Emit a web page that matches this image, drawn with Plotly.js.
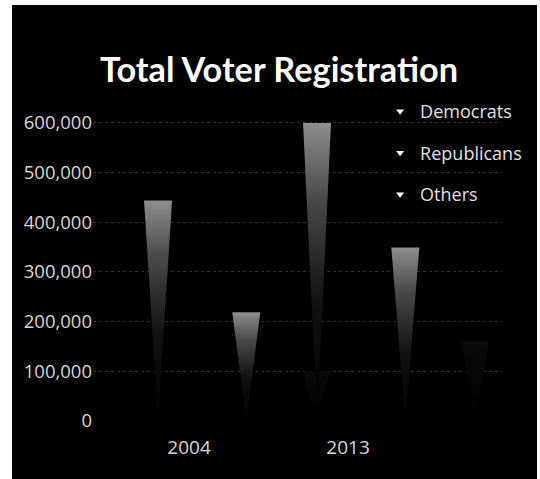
<!DOCTYPE html>
<html><head><meta charset="utf-8">
<script src="https://cdn.plot.ly/plotly-3.0.1.min.js"></script>
<style>
html,body{margin:0;padding:0;background:#fff;width:540px;height:479px;overflow:hidden}
#chart{position:absolute;left:12px;top:5px;width:525px;height:474px;background:#000}
</style>
</head><body><div id="chart"></div>
<script>
// ---- data ----
const categories = ["2004", "2013"];
const democrats = [444000, 600000];
const republicans = [219000, 349000];
const others = [100000, 160000];   // not visible in the reference (dark cones); estimated
const yTickValues = [0, 100000, 200000, 300000, 400000, 500000, 600000];
const yTickLabels = ["0", "100,000", "200,000", "300,000", "400,000", "500,000", "600,000"];

// ---- styling ----
const brightScale = [[0, "#000000"], [0.4, "#121212"], [0.75, "#4a4a4a"], [1, "#8e8e8e"]];
const darkScale = [[0, "#000000"], [1, "#0a0a0a"]];
const series = [
  {name: "Others",      values: others,      offset: 0.80,   scale: darkScale},
  {name: "Democrats",   values: democrats,   offset: -0.195, scale: brightScale},
  {name: "Republicans", values: republicans, offset: 0.36,   scale: brightScale}
];
const legendOrder = ["Democrats", "Republicans", "Others"];
const halfW = 0.088;

const traces = [];
series.forEach(s => {
  s.values.forEach((v, i) => {
    const c = i + s.offset;
    traces.push({
      type: "scatter", mode: "lines",
      x: [c - halfW, c + halfW, c, c - halfW],
      y: [v, v, 0, v],
      fill: "toself",
      line: {width: 0, color: "rgba(0,0,0,0)"},
      fillcolor: s.scale[s.scale.length - 1][1],
      fillgradient: {type: "vertical", start: 0, stop: v, colorscale: s.scale},
      showlegend: false, hoverinfo: "skip", legendgroup: s.name
    });
  });
});
legendOrder.forEach((name, k) => {
  traces.push({
    type: "scatter", mode: "markers", x: [null], y: [null],
    name: name, legendgroup: name, legendrank: k + 1,
    marker: {symbol: "triangle-down", size: 7, color: "#ffffff"}
  });
});

const layout = {
  width: 525, height: 474,
  paper_bgcolor: "#000000", plot_bgcolor: "#000000",
  margin: {l: 81, r: 35, t: 98, b: 58, autoexpand: false},
  title: {
    text: "<b>Total Voter Registration</b>",
    font: {family: "Lato, 'Open Sans', sans-serif", size: 34.3, color: "#ffffff"},
    xref: "container", yref: "container",
    x: 0.5086, xanchor: "center", y: 0.862, yanchor: "middle"
  },
  xaxis: {
    range: [-0.604, 1.968],
    tickvals: categories.map((c, i) => i), ticktext: categories,
    showgrid: false, zeroline: false, showline: false,
    ticks: "", ticklabelstandoff: 13,
    tickfont: {family: "'Open Sans', sans-serif", size: 19, color: "#d6d6d6"}
  },
  yaxis: {
    range: [0, 640000],
    tickvals: yTickValues, ticktext: yTickLabels,
    showgrid: true, gridcolor: "#2c2c2c", griddash: "dot", gridwidth: 1,
    zeroline: false, showline: false, ticks: "",
    tickfont: {family: "'Open Sans', sans-serif", size: 18.5, color: "#d6d6d6"}
  },
  showlegend: true,
  legend: {
    x: 0.702, xanchor: "left", y: 1.031, yanchor: "top",
    bgcolor: "rgba(0,0,0,0)", traceorder: "grouped", tracegroupgap: 15,
    font: {family: "'Open Sans', sans-serif", size: 18, color: "#e0e0e0"}
  },
  hovermode: false
};

Plotly.newPlot("chart", traces, layout, {displayModeBar: false, staticPlot: true});
</script>
</body></html>
